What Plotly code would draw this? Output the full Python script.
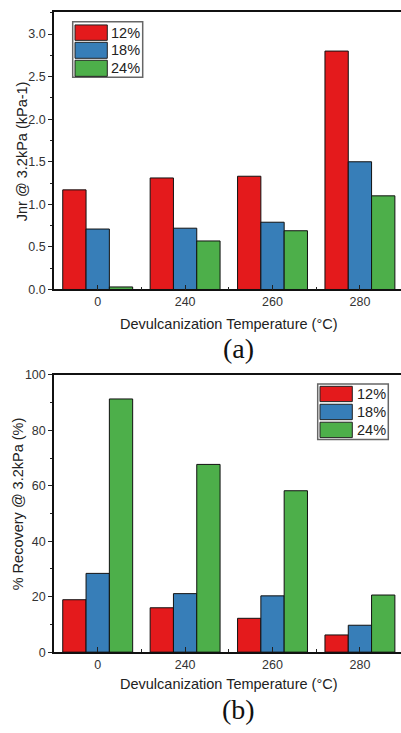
import plotly.graph_objects as go
from plotly.subplots import make_subplots

categories = ["0", "240", "260", "280"]
series_names = ["12%", "18%", "24%"]
colors = ["#E41A1C", "#377EB8", "#4DAF4A"]

jnr_12 = [1.17, 1.31, 1.33, 2.80]
jnr_18 = [0.71, 0.72, 0.79, 1.50]
jnr_24 = [0.03, 0.57, 0.69, 1.10]

rec_12 = [18.9, 16.0, 12.2, 6.2]
rec_18 = [28.4, 21.1, 20.3, 9.7]
rec_24 = [91.3, 67.7, 58.2, 20.6]

W, H = 401, 733
def px(x):
    return x / W
def py(y):
    return 1 - y / H

xpos = list(range(len(categories)))

fig = make_subplots(rows=2, cols=1)

for vals, name, col in zip([jnr_12, jnr_18, jnr_24], series_names, colors):
    fig.add_trace(go.Bar(x=xpos, y=vals, name=name, marker=dict(color=col, line=dict(color="#111", width=1)),
                         showlegend=False), row=1, col=1)
for vals, name, col in zip([rec_12, rec_18, rec_24], series_names, colors):
    fig.add_trace(go.Bar(x=xpos, y=vals, name=name, marker=dict(color=col, line=dict(color="#111", width=1)),
                         showlegend=False), row=2, col=1)

tickfont = dict(family="Liberation Sans, Arial", size=12.5, color="#333")
xcommon = dict(range=[-0.5, 3.47], tickvals=xpos, ticktext=categories, ticks="inside", ticklen=5,
               tickcolor="#222", showline=True, linecolor="#111", linewidth=1.5, mirror=True,
               showgrid=False, zeroline=False, tickfont=tickfont,
               minor=dict(tick0=0.5, dtick=1, ticks="inside", ticklen=3, tickcolor="#222"))
fig.update_xaxes(**xcommon, domain=[px(54), 1])

fig.update_yaxes(row=1, col=1, range=[0, 3.26], dtick=0.5, tickformat=".1f", domain=[py(288), py(5)])
fig.update_yaxes(row=2, col=1, range=[0, 100], dtick=20, domain=[py(657.7), py(375)])
fig.update_yaxes(ticks="outside", ticklen=4, tickcolor="#222", showline=True, linecolor="#111", linewidth=1.5,
                 mirror=False, showgrid=False, zeroline=False, tickfont=tickfont,
                 minor=dict(ticks="outside", ticklen=2, tickcolor="#222"))
fig.update_yaxes(row=1, col=1, minor_dtick=0.25)
fig.update_yaxes(row=2, col=1, minor_dtick=10)

annotations = []
titlefont = dict(family="Liberation Sans, Arial", size=14.5, color="#222")
for yc, ttl in [(323, "Devulcanization Temperature (°C)"), (690, "Devulcanization Temperature (°C)")]:
    annotations.append(dict(x=px(229), y=py(yc), xref="paper", yref="paper", text=ttl, showarrow=False,
                            font=titlefont, xanchor="center", yanchor="middle"))
annotations.append(dict(x=px(22), y=py(147), xref="paper", yref="paper", text="Jnr @ 3.2kPa (kPa-1)",
                        showarrow=False, font=titlefont, textangle=-90, xanchor="center", yanchor="middle"))
annotations.append(dict(x=px(18), y=py(507), xref="paper", yref="paper", text="% Recovery @ 3.2kPa (%)",
                        showarrow=False, font=titlefont, textangle=-90, xanchor="center", yanchor="middle"))
serif = dict(family="Liberation Serif, Times New Roman", size=28, color="#111")
annotations.append(dict(x=px(238), y=py(348), xref="paper", yref="paper", text="(a)", showarrow=False,
                        font=serif, xanchor="center", yanchor="middle"))
annotations.append(dict(x=px(238), y=py(716), xref="paper", yref="paper", text="(b)", showarrow=False,
                        font=serif, xanchor="center", yanchor="middle"))

shapes = []
legfont = dict(family="Liberation Sans, Arial", size=14.5, color="#222")
def add_legend(box, sw_x0, sw_x1, rows, text_x):
    bx0, bx1, by0, by1 = box
    shapes.append(dict(type="rect", xref="paper", yref="paper", x0=px(bx0), x1=px(bx1), y0=py(by1), y1=py(by0),
                       line=dict(color="#666", width=1.5), fillcolor="white", layer="above"))
    for (r0, r1), name, col in zip(rows, series_names, colors):
        shapes.append(dict(type="rect", xref="paper", yref="paper", x0=px(sw_x0), x1=px(sw_x1), y0=py(r1), y1=py(r0),
                           line=dict(color="#222", width=1), fillcolor=col, layer="above"))
        annotations.append(dict(x=px(text_x), y=py((r0 + r1) / 2), xref="paper", yref="paper", text=name,
                                showarrow=False, font=legfont, xanchor="left", yanchor="middle"))

add_legend((72.7, 142.7, 15, 71.7), 75, 107.3, [(18.3, 34), (36, 52.3), (54.3, 70.7)], 109.5)
add_legend((317.7, 388.3, 384.3, 441), 320, 352.3, [(386.7, 402.3), (405, 420.7), (423.3, 439)], 354.5)

fig.update_layout(width=W, height=H, margin=dict(l=0, r=0, t=0, b=0), barmode="group", bargap=0.2,
                  bargroupgap=0, plot_bgcolor="white", paper_bgcolor="white", showlegend=False,
                  annotations=annotations, shapes=shapes)

fig.write_html("out.html", config={"displayModeBar": False},
               post_script="document.body.style.margin='0';document.body.style.overflow='hidden';")
